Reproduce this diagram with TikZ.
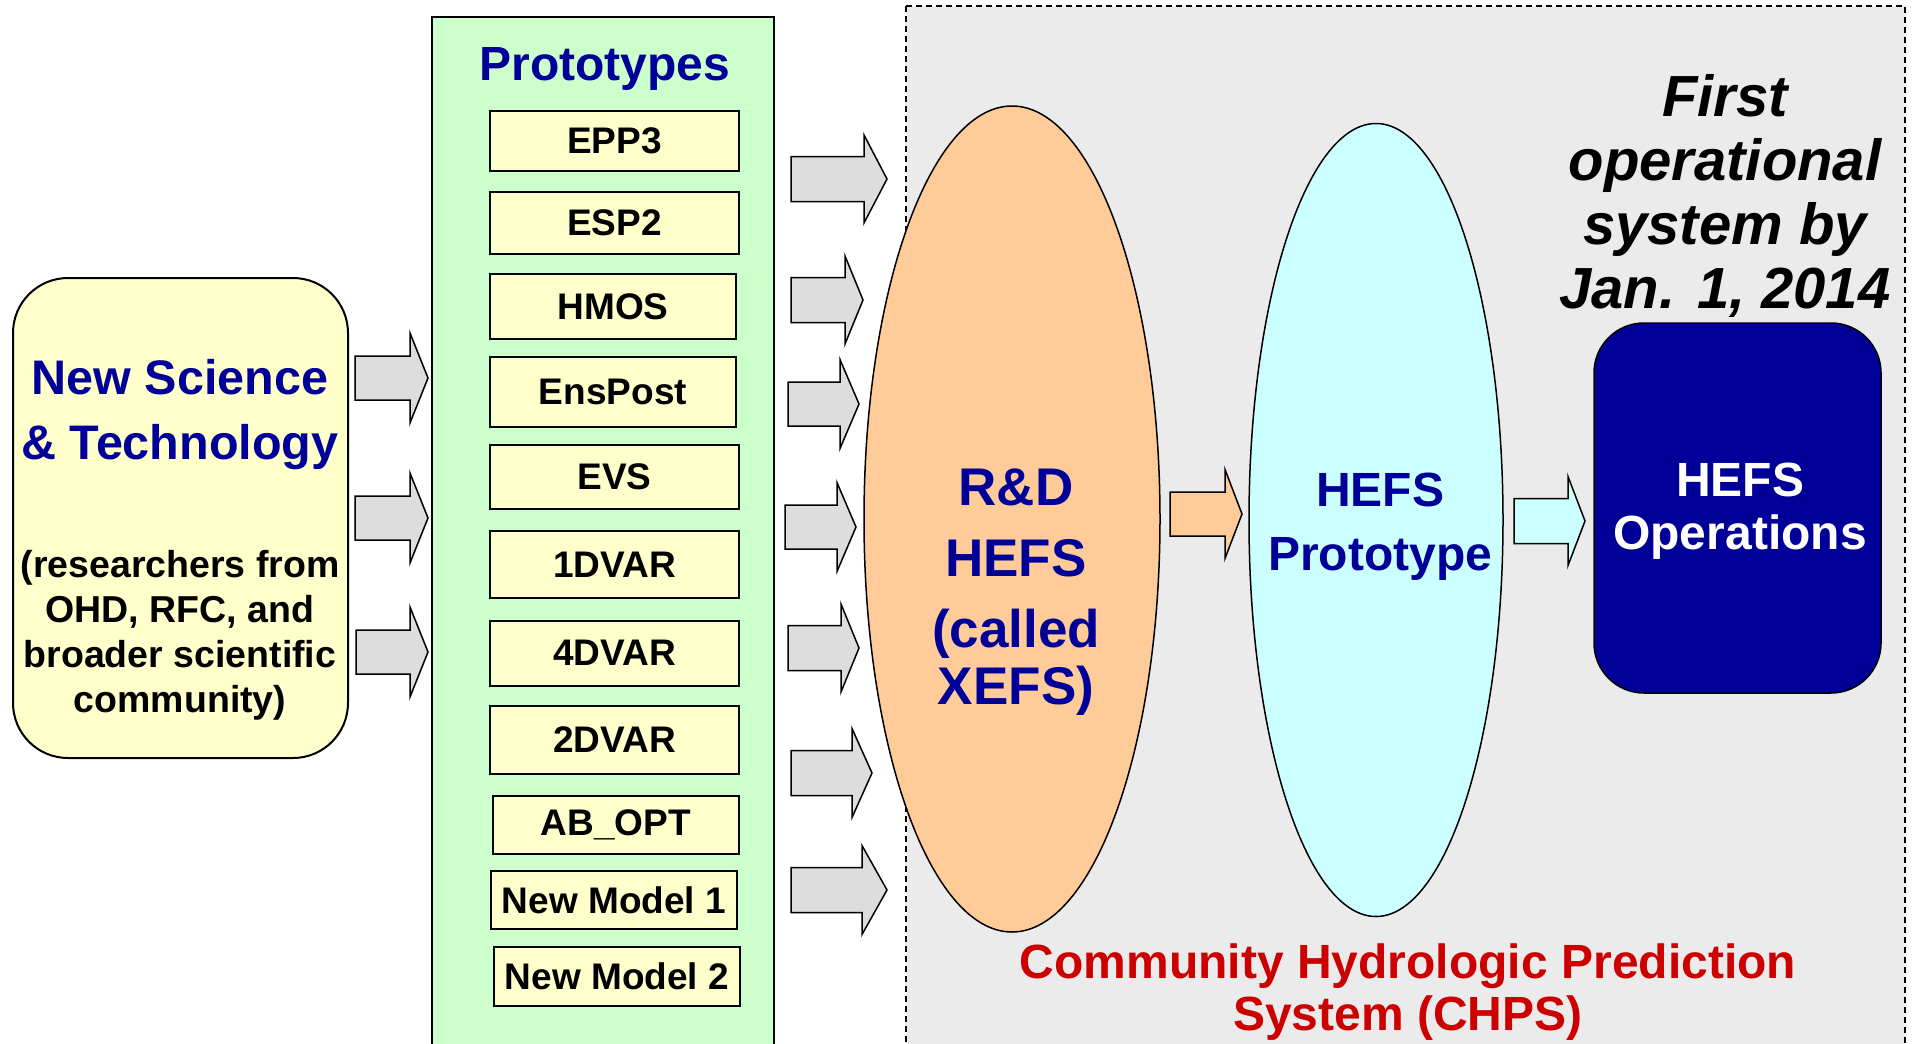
\documentclass[tikz,border=0pt]{standalone}
\usepackage{fontspec}
\setmainfont{Liberation Sans}
\usetikzlibrary{shapes.geometric}
\definecolor{ttblue}{HTML}{000099}
\definecolor{ttyellow}{HTML}{FFFFCC}
\definecolor{ttgreen}{HTML}{CCFFCC}
\definecolor{ttorange}{HTML}{FFCC99}
\definecolor{ttcyan}{HTML}{CCFFFF}
\definecolor{ttred}{HTML}{CC0000}
\definecolor{ttarrow}{HTML}{DDDDDD}
\definecolor{ttregion}{HTML}{EBEBEB}
\newcommand\blockarr[7]{%
  \draw[blockarrow, fill=#7] (#1,#4-#5) -- (#2,#4-#5) -- (#2,#4-#6) -- (#3,#4)
     -- (#2,#4+#6) -- (#2,#4+#5) -- (#1,#4+#5) -- cycle;}
\begin{document}
\begin{tikzpicture}[x=1pt,y=-1pt,
  blockarrow/.style={draw=black, line width=1.5pt, line join=miter},
  protobox/.style={draw=black, line width=2pt, fill=ttyellow, inner sep=0pt,
     font=\fontsize{37}{44}\selectfont\bfseries},
  blocktext/.style={align=center, inner sep=0pt},
]
\useasboundingbox (0,0) rectangle (1915,1044);
\clip (0,0) rectangle (1915,1044);
\fill[white] (0,0) rectangle (1915,1044);

% CHPS region
\draw[fill=ttregion, line width=1.2pt, dash pattern=on 6pt off 4pt] (906,6) rectangle (1905,1080);

% left box
\node[draw=black, line width=2pt, fill=ttyellow, rounded corners=55pt,
      minimum width=335pt, minimum height=480pt] (science) at (180.5,518) {};
\node[blocktext, text=ttblue, font=\fontsize{48.5}{65}\selectfont\bfseries] (scititle) at (180,415)
   {New Science\\\& Technology};
\node[blocktext, font=\fontsize{37.5}{45}\selectfont\bfseries] (scisub) at (180,635)
   {(researchers from\\OHD, RFC, and\\broader scientific\\community)};

% prototypes column
\draw[line width=2pt, fill=ttgreen] (432,17) rectangle (774,1080);
\node[text=ttblue, font=\fontsize{48}{56}\selectfont\bfseries, anchor=base, inner sep=0pt] (prototitle) at (605,80) {Prototypes};

\node[protobox, minimum width=249pt, minimum height=60pt] (epp3) at (614.5,141) {EPP3};
\node[protobox, minimum width=249pt, minimum height=62pt] (esp2) at (614.5,223) {ESP2};
\node[protobox, minimum width=246pt, minimum height=65pt] (hmos) at (613,306.5) {HMOS};
\node[protobox, minimum width=246pt, minimum height=70pt] (enspost) at (613,392) {EnsPost};
\node[protobox, minimum width=249pt, minimum height=64pt] (evs) at (614.5,477) {EVS};
\node[protobox, minimum width=249pt, minimum height=67pt] (onedvar) at (614.5,564.5) {1DVAR};
\node[protobox, minimum width=249pt, minimum height=65pt] (fourdvar) at (614.5,653) {4DVAR};
\node[protobox, minimum width=249pt, minimum height=68pt] (twodvar) at (614.5,740) {2DVAR};
\node[protobox, minimum width=246pt, minimum height=58pt] (abopt) at (616,825) {AB\_OPT};
\node[protobox, minimum width=246pt, minimum height=58pt] (newone) at (614,900) {New Model 1};
\node[protobox, minimum width=246pt, minimum height=59pt] (newtwo) at (617,976.5) {New Model 2};

% arrows science -> prototypes
\blockarr{355}{410}{428}{378}{22}{45}{ttarrow}
\blockarr{355}{410}{428}{518}{22}{45}{ttarrow}
\blockarr{356}{410}{428}{652}{22}{45}{ttarrow}

% arrows prototypes -> R&D
\blockarr{791}{864}{887}{179}{22.5}{44}{ttarrow}
\blockarr{791}{845}{863}{300}{22.5}{44}{ttarrow}
\blockarr{788}{840}{859}{404}{22}{44.5}{ttarrow}
\blockarr{785}{837}{856}{527}{22}{44.5}{ttarrow}
\blockarr{788}{841}{859}{648}{22.5}{44}{ttarrow}
\blockarr{791}{852}{872}{773}{22.5}{44.5}{ttarrow}
\blockarr{791}{862}{887}{890}{22.5}{44.5}{ttarrow}

% ellipses
\node[ellipse, draw=black, line width=1.5pt, fill=ttorange, inner sep=0pt,
      minimum width=296pt, minimum height=826pt] (rd) at (1012,519) {};
\node[blocktext, text=ttblue, font=\fontsize{53}{71}\selectfont\bfseries] (rdtext) at (1016,592)
   {R\&D\\HEFS\\(called\\[-14pt]XEFS)};

\node[ellipse, draw=black, line width=1.5pt, fill=ttcyan, inner sep=0pt,
      minimum width=254pt, minimum height=793pt] (proto) at (1376,520) {};
\node[blocktext, text=ttblue, font=\fontsize{48}{64}\selectfont\bfseries] (prototext) at (1380,527)
   {HEFS\\Prototype};

\blockarr{1170}{1225}{1242}{514}{22}{44.5}{ttorange}
\blockarr{1514}{1568}{1585}{521}{22.5}{44.5}{ttcyan}

% operations
\node[draw=black, line width=1.5pt, fill=ttblue, rounded corners=50pt,
      minimum width=287pt, minimum height=370pt] (ops) at (1737.5,508) {};
\node[blocktext, text=white, font=\fontsize{48}{53}\selectfont\bfseries] (opstext) at (1740,511)
   {HEFS\\Operations};

\node[blocktext, font=\fontsize{58}{64}\selectfont\bfseries\itshape] (first) at (1725,196)
   {First\\operational\\system by\\Jan. 1, 2014};

\node[blocktext, text=ttred, font=\fontsize{48}{52}\selectfont\bfseries] (chps) at (1408,992)
   {Community Hydrologic Prediction\\System (CHPS)};
\end{tikzpicture}
\end{document}
